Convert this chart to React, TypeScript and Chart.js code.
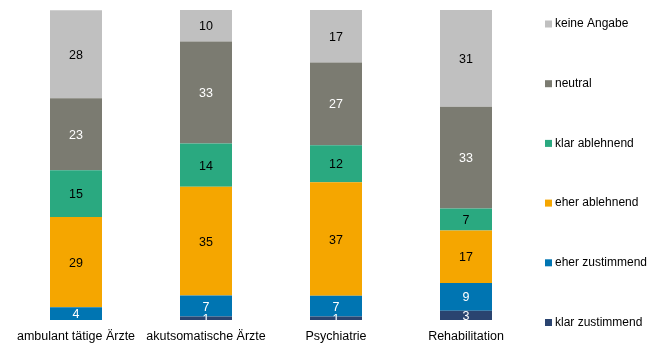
import React, { useEffect, useRef } from "react";
import { Chart, registerables } from "chart.js";

Chart.register(...registerables);

const categories = ["ambulant tätige Ärzte", "akutsomatische Ärzte", "Psychiatrie", "Rehabilitation"];
const klarZustimmend = [0, 1.1, 1.1, 3.0];
const eherZustimmend = [4.1, 6.8, 6.7, 8.9];
const eherAblehnend = [29.1, 35.1, 36.6, 17.0];
const klarAblehnend = [15.1, 13.9, 12.0, 7.1];
const neutral = [23.2, 32.9, 26.7, 32.8];
const keineAngabe = [28.4, 10.2, 16.9, 31.2];

const seriesNames = ["klar zustimmend", "eher zustimmend", "eher ablehnend", "klar ablehnend", "neutral", "keine Angabe"];
const seriesColors = ["#2a4470", "#0075b2", "#f5a600", "#2aa980", "#7b7b71", "#c0c0c0"];
const labelColors = ["#ffffff", "#ffffff", "#000000", "#000000", "#ffffff", "#000000"];

const FONT = "Liberation Sans, Arial, sans-serif";

const valueLabels = {
  id: "valueLabels",
  afterDatasetsDraw(chart: any) {
    const { ctx, chartArea } = chart;
    ctx.save();
    ctx.beginPath();
    ctx.rect(chartArea.left, chartArea.top, chartArea.right - chartArea.left, chartArea.bottom - chartArea.top);
    ctx.clip();
    ctx.font = `12.5px ${FONT}`;
    ctx.textAlign = "center";
    ctx.textBaseline = "middle";
    chart.data.datasets.forEach((ds: any, di: number) => {
      const meta = chart.getDatasetMeta(di);
      meta.data.forEach((el: any, i: number) => {
        const v = ds.data[i];
        if (!v) return;
        const yc = (el.y + el.base) / 2;
        ctx.fillStyle = labelColors[di];
        ctx.fillText(String(Math.round(v)), el.x, yc + 1);
      });
    });
    ctx.restore();
  },
};

const sideLegend = {
  id: "sideLegend",
  afterDraw(chart: any) {
    const { ctx, chartArea } = chart;
    ctx.save();
    ctx.font = `12px ${FONT}`;
    ctx.textBaseline = "middle";
    ctx.textAlign = "left";
    const x = chartArea.right + 14;
    const n = seriesNames.length;
    for (let k = 0; k < n; k++) {
      const di = n - 1 - k;
      const y = chartArea.top + 14 + k * 59.7;
      ctx.fillStyle = seriesColors[di];
      ctx.fillRect(x, y - 3.5, 7, 7);
      ctx.fillStyle = "#000000";
      ctx.fillText(seriesNames[di], x + 10, y);
    }
    ctx.restore();
  },
};

export default function App() {
  const ref = useRef<HTMLCanvasElement>(null);
  useEffect(() => {
    if (!ref.current) return;
    const series = [klarZustimmend, eherZustimmend, eherAblehnend, klarAblehnend, neutral, keineAngabe];
    const chart = new Chart(ref.current, {
      type: "bar",
      data: {
        labels: categories,
        datasets: series.map((d, i) => ({
          label: seriesNames[i],
          data: d,
          backgroundColor: seriesColors[i],
          borderWidth: 0,
          barPercentage: 0.4,
          categoryPercentage: 1,
        })),
      },
      options: {
        animation: false,
        responsive: false,
        maintainAspectRatio: false,
        layout: { padding: { left: 11, right: 123, top: 10, bottom: -10 } },
        plugins: { legend: { display: false }, tooltip: { enabled: false } },
        scales: {
          x: {
            stacked: true,
            grid: { display: false, drawTicks: false },
            border: { display: false },
            ticks: { color: "#000000", font: { size: 12.5, family: FONT }, padding: 9, maxRotation: 0, autoSkip: false },
          },
          y: {
            stacked: true,
            min: 0,
            max: 100,
            display: false,
          },
        },
      },
      plugins: [valueLabels, sideLegend],
    });
    return () => chart.destroy();
  }, []);
  return (
    <div style={{ position: "fixed", left: 0, top: 0, width: 654, height: 343, background: "#fff" }}>
      <canvas ref={ref} width={654} height={343} style={{ width: 654, height: 343 }} />
    </div>
  );
}
